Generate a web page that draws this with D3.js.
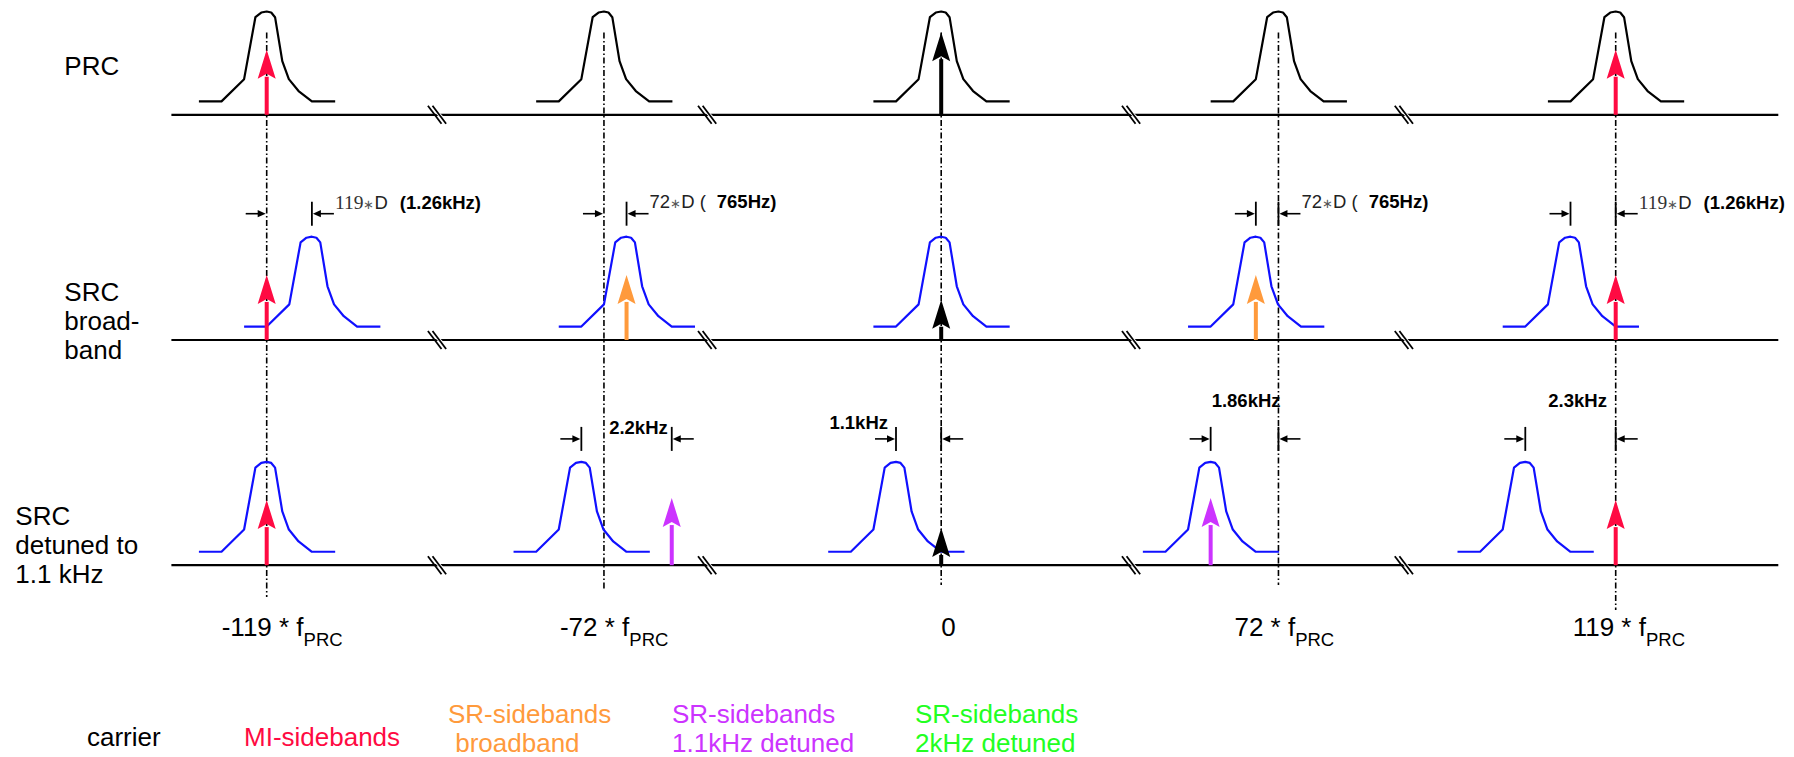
<!DOCTYPE html>
<html>
<head>
<meta charset="utf-8">
<script src="https://cdn.jsdelivr.net/npm/d3@7"></script>
<style>
  body { margin: 0; background: #fff; }
  svg { display: block; }
  text { font-family: "Liberation Sans", Arial, sans-serif; }
</style>
</head>
<body>
<div id="chart"></div>
<script>
/* Sideband diagram: PRC / SRC broadband / SRC detuned */

// ---- data ----
const columnFactors = ["-119", "-72", "0", "72", "119"];
const rowLabels = [["PRC"], ["SRC", "broad-", "band"], ["SRC", "detuned to", "1.1 kHz"]];

// peak centre per row/column, in detuning units
const peakOffsets = [
  [0, 0, 0, 0, 0],
  [2, 1, 0, -1, -2],
  [0, -1, -2, -3, -4]
];
// resonance profile [detuning units, relative height]
const peakProfile = [
  [-3.0, 0.13], [-2.0, 0.13], [-1.0, 0.345], [-0.5, 0.945], [-0.24, 0.99], [0, 1.0],
  [0.2, 0.99], [0.37, 0.945], [0.69, 0.52], [0.98, 0.345], [1.41, 0.23], [2.0, 0.13], [3.03, 0.13]
];

// field lines: row, column, offset (units), kind, amplitude
const fieldLines = [
  { row: 0, col: 0, off: 0, kind: "mi", amp: 0.63 },
  { row: 0, col: 2, off: 0, kind: "carrier", amp: 0.8 },
  { row: 0, col: 4, off: 0, kind: "mi", amp: 0.63 },
  { row: 1, col: 0, off: 0, kind: "mi", amp: 0.63 },
  { row: 1, col: 1, off: 1, kind: "srb", amp: 0.63 },
  { row: 1, col: 2, off: 0, kind: "carrier", amp: 0.39 },
  { row: 1, col: 3, off: -1, kind: "srb", amp: 0.63 },
  { row: 1, col: 4, off: 0, kind: "mi", amp: 0.63 },
  { row: 2, col: 0, off: 0, kind: "mi", amp: 0.63 },
  { row: 2, col: 1, off: 3, kind: "srd", amp: 0.65 },
  { row: 2, col: 2, off: 0, kind: "carrier", amp: 0.36 },
  { row: 2, col: 3, off: -3, kind: "srd", amp: 0.65 },
  { row: 2, col: 4, off: 0, kind: "mi", amp: 0.63 }
];

// axis breaks, in column coordinates
const breakPositions = [0.505, 1.306, 2.563, 3.372];

// spacing annotations: from a to b (units)
const annotations = [
  { row: 1, col: 0, a: 0, b: 2, text: [["119", "serif"], ["∗", "star"], ["D", "sans"], ["(1.26kHz)", "bold", 12]] },
  { row: 1, col: 1, a: 0, b: 1, text: [["72", "sans"], ["∗", "star"], ["D (", "sans"], ["765Hz)", "bold", 11]] },
  { row: 1, col: 3, a: -1, b: 0, text: [["72", "sans"], ["∗", "star"], ["D (", "sans"], ["765Hz)", "bold", 11]] },
  { row: 1, col: 4, a: -2, b: 0, text: [["119", "serif"], ["∗", "star"], ["D", "sans"], ["(1.26kHz)", "bold", 12]] },
  { row: 2, col: 1, a: -1, b: 3, text: [["2.2kHz", "bold"]] },
  { row: 2, col: 2, a: -2, b: 0, text: [["1.1kHz", "bold"]] },
  { row: 2, col: 3, a: -3, b: 0, text: [["1.86kHz", "bold"]] },
  { row: 2, col: 4, a: -4, b: 0, text: [["2.3kHz", "bold"]] }
];

const legendItems = [
  { kind: "carrier", lines: ["carrier"] },
  { kind: "mi", lines: ["MI-sidebands"] },
  { kind: "srb", lines: ["SR-sidebands", " broadband"] },
  { kind: "srd", lines: ["SR-sidebands", "1.1kHz detuned"] },
  { kind: "sr2", lines: ["SR-sidebands", "2kHz detuned"] }
];

// ---- layout ----
const width = 1794, height = 757;
const colors = { carrier: "#000", mi: "#ff0a42", srb: "#ff9a3c", srd: "#cc33ff", sr2: "#22ff22" };
const annotLayout = [
  { anchor: "tail", dy: -131 }, { anchor: "tail", dy: -132 }, { anchor: "tail", dy: -132 }, { anchor: "tail", dy: -131 },
  { anchor: "endB", dx: -4, dy: -131 }, { anchor: "endA", dx: -8, dy: -136 },
  { anchor: "startA", dx: 1, dy: -158 }, { anchor: "startA", dx: 23, dy: -158 }
];
const guideBottoms = [597, 590, 585, 585, 610];
const tickLabelDx = [-45, -44, 0, -44, -43];
const legendX = [87, 244, 448, 672, 915];

const colX = d3.scaleLinear().domain([0, 4]).range([266.7, 1615.7]);
const unitX = d3.scaleLinear().domain([0, 1]).range([0, 22.6]);
const rowY = d3.scaleLinear().domain([0, 2]).range([114.8, 565.2]);
const ampY = d3.scaleLinear().domain([0, 1]).range([0, 103.3]);
const xAt = (c, u) => colX(c) + unitX(u);

const svg = d3.select("#chart").append("svg")
  .attr("width", width)
  .attr("height", height);

// Row labels
rowLabels.forEach((lines, r) => {
  const lx = r === 2 ? 15.3 : 64.3;
  const base = r === 0 ? 75.4 : rowY(r) - 39.4 - (r === 2 ? 1 : 0);
  const t = svg.append("text").attr("font-size", 26).attr("fill", "#000");
  lines.forEach((s, i) => {
    t.append("tspan").attr("x", lx).attr("y", base + i * 29.2).text(s);
  });
});

// Frequency axes with break marks
d3.range(3).forEach((r) => {
  const y = rowY(r);
  svg.append("line")
    .attr("x1", 171.4).attr("x2", 1778.3)
    .attr("y1", y).attr("y2", y)
    .attr("stroke", "#000").attr("stroke-width", 2.2);
  breakPositions.forEach((b) => {
    const cx = colX(b);
    svg.append("polygon")
      .attr("points", [[cx - 9.1, y - 9], [cx + 9.1, y + 9], [cx + 13.7, y + 9], [cx - 4.5, y - 9]].map((p) => p.join(",")).join(" "))
      .attr("fill", "#fff");
    [0, 4.6].forEach((o) => {
      svg.append("line")
        .attr("x1", cx - 9.1 + o).attr("y1", y - 9)
        .attr("x2", cx + 4.5 + o).attr("y2", y + 9)
        .attr("stroke", "#000").attr("stroke-width", 1.8);
    });
  });
});

// Dash-dot guide lines
columnFactors.forEach((f, c) => {
  svg.append("line")
    .attr("x1", colX(c)).attr("x2", colX(c))
    .attr("y1", 32.5).attr("y2", guideBottoms[c])
    .attr("stroke", "#000").attr("stroke-width", 1.6)
    .attr("stroke-dasharray", "6,2.5,1.5,2.5");
});

// Resonance peaks
const peakLine = d3.line();
peakOffsets.forEach((rowOffs, r) => {
  rowOffs.forEach((off, c) => {
    svg.append("path")
      .attr("d", peakLine(peakProfile.map((p) => [xAt(c, off + p[0]), rowY(r) - ampY(p[1])])))
      .attr("fill", "none")
      .attr("stroke", r === 0 ? "#000" : "#1010ff")
      .attr("stroke-width", 2.2)
      .attr("stroke-linejoin", "round");
  });
});

// Field arrows
fieldLines.forEach((d) => {
  const x0 = xAt(d.col, d.off);
  const y0 = rowY(d.row);
  const tip = y0 - ampY(d.amp);
  const head = 29;
  svg.append("line")
    .attr("x1", x0).attr("x2", x0)
    .attr("y1", y0).attr("y2", tip + head - 2)
    .attr("stroke", colors[d.kind]).attr("stroke-width", 4);
  svg.append("path")
    .attr("d", `M${x0},${tip} L${x0 + 9},${tip + head} L${x0},${tip + head - 5} L${x0 - 9},${tip + head} Z`)
    .attr("fill", colors[d.kind]);
});

// Spacing annotations
function smallArrow(xFrom, xTo, y) {
  const dir = Math.sign(xTo - xFrom);
  svg.append("line")
    .attr("x1", xFrom).attr("x2", xTo - dir * 5)
    .attr("y1", y).attr("y2", y)
    .attr("stroke", "#000").attr("stroke-width", 1.6);
  svg.append("path")
    .attr("d", `M${xTo},${y} L${xTo - dir * 8},${y - 3.6} L${xTo - dir * 8},${y + 3.6} Z`)
    .attr("fill", "#000");
}
function tick(x, y) {
  svg.append("line")
    .attr("x1", x).attr("x2", x)
    .attr("y1", y - 12).attr("y2", y + 12)
    .attr("stroke", "#000").attr("stroke-width", 1.8);
}

annotations.forEach((d, i) => {
  const y = rowY(d.row) - 126.3;
  const xa = xAt(d.col, d.a);
  const xb = xAt(d.col, d.b);
  const lay = annotLayout[i];
  smallArrow(xa - 21, xa - 1, y);
  if (!(d.row === 1 && d.a === 0)) tick(xa, y);
  tick(xb, y);
  smallArrow(xb + 22, xb + 1, y);

  let tx, anchor = "start";
  if (lay.anchor === "tail") tx = xb + 23;
  else if (lay.anchor === "endB") { tx = xb + lay.dx; anchor = "end"; }
  else if (lay.anchor === "endA") { tx = xa + lay.dx; anchor = "end"; }
  else tx = xa + lay.dx;

  const t = svg.append("text")
    .attr("x", tx).attr("y", rowY(d.row) + lay.dy)
    .attr("text-anchor", anchor)
    .attr("font-size", 18.5)
    .attr("fill", "#000");
  d.text.forEach(([s, style, dx]) => {
    const ts = t.append("tspan").text(s);
    if (dx) ts.attr("dx", dx);
    if (style === "serif") ts.style("font-family", "'Liberation Serif', 'Times New Roman', serif").attr("font-size", 19.5).attr("fill", "#333");
    if (style === "star") ts.attr("font-size", 13).attr("fill", "#555");
    if (style === "sans") ts.attr("fill", "#222");
    if (style === "bold") ts.attr("font-weight", "bold");
  });
});

// Frequency tick labels
columnFactors.forEach((f, c) => {
  const t = svg.append("text")
    .attr("x", colX(c) + tickLabelDx[c])
    .attr("y", 635.7)
    .attr("font-size", 26)
    .attr("fill", "#000");
  if (f === "0") {
    t.text("0");
    return;
  }
  t.append("tspan").text(`${f} * f`);
  t.append("tspan").attr("font-size", 18.5).attr("dy", 10).text("PRC");
});

// Legend
legendItems.forEach((d, i) => {
  const t = svg.append("text")
    .attr("font-size", 26)
    .attr("fill", colors[d.kind])
    .style("white-space", "pre");
  const ys = d.lines.length === 1 ? [745.7] : [723.3, 751.5];
  d.lines.forEach((s, j) => {
    t.append("tspan").attr("x", legendX[i]).attr("y", ys[j]).text(s);
  });
});
</script>
</body>
</html>
